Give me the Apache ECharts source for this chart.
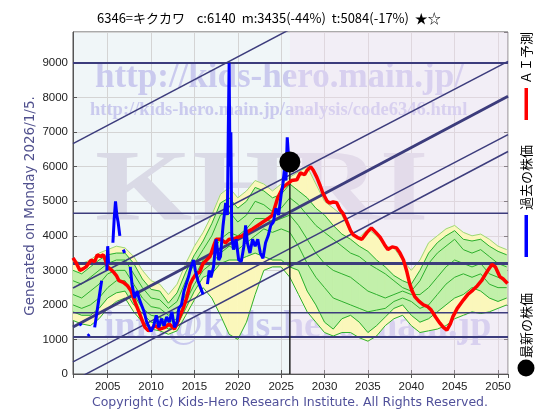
<!DOCTYPE html>
<html>
<head>
<meta charset="utf-8">
<script src="https://cdn.jsdelivr.net/npm/echarts@6/dist/echarts.min.js"></script>
<style>
  html, body { margin: 0; padding: 0; background: #fff; }
  #main { width: 560px; height: 420px; }
</style>
</head>
<body>
<div id="main"></div>
<script>
// 年ごとの帯（類似パターン）
var bandYears = [2001, 2002, 2003, 2004, 2005, 2006, 2007, 2008, 2009, 2010,
  2011, 2012, 2013, 2014, 2015, 2016, 2017, 2018, 2019, 2020,
  2021, 2022, 2023, 2024, 2025, 2026, 2027, 2028, 2029, 2030,
  2031, 2032, 2033, 2034, 2035, 2036, 2037, 2038, 2039, 2040,
  2041, 2042, 2043, 2044, 2045, 2046, 2047, 2048, 2049, 2050, 2051];
var yellowUpper = [3300, 3200, 3300, 3500, 3600, 3700, 3650, 3400, 3000, 2700,
  2600, 2300, 2600, 3200, 3700, 4100, 4600, 5200, 5400, 5100,
  5300, 5600, 5500, 5300, 5500, 5700, 5850, 6000, 5500, 5000,
  4800, 4600, 4100, 3950, 4200, 4000, 3700, 3650, 3300, 3000,
  3300, 3800, 4000, 4200, 4300, 4100, 4000, 4050, 3900, 3700, 3600];
var yellowLower = [1550, 1450, 1400, 1600, 1900, 2100, 2200, 1800, 1500, 1300,
  1250, 1150, 1250, 1700, 2150, 2500, 2200, 1700, 1150, 1000,
  1500, 2300, 3000, 3100, 3100, 2800, 2300, 1800, 1500, 1200,
  1100, 1200, 1200, 1050, 950, 1100, 1400, 1600, 1700, 1400,
  1200, 1250, 1300, 1400, 1600, 1700, 1800, 1750, 1800, 1900, 2000];
var greenUpper = [3000, 2900, 3100, 3300, 3450, 3500, 3500, 3200, 2750, 2450,
  2400, 2050, 2350, 2950, 3450, 3850, 4350, 4950, 5100, 4800,
  5000, 5400, 5300, 5100, 5200, 5500, 5300, 5100, 4800, 4600,
  4300, 4050, 3900, 3700, 3550, 3300, 3100, 2850, 2700, 2600,
  3000, 3500, 3800, 4000, 4150, 3900, 3850, 3900, 3700, 3550, 3450];
var greenLower = [1800, 1700, 1700, 1900, 2200, 2350, 2400, 2000, 1750, 1500,
  1450, 1300, 1400, 1900, 2400, 2800, 2900, 3200, 3300, 3300,
  3400, 3500, 3400, 3300, 3300, 3100, 3000, 2400, 2000, 1500,
  1300, 1600, 1700, 1500, 1200, 1400, 1650, 1900, 2000, 1700,
  1500, 1600, 1800, 2000, 2200, 2300, 2500, 2400, 2200, 2100, 2200];
var green1 = [2700, 2600, 2800, 3000, 3200, 3300, 3300, 2900, 2500, 2200,
  2150, 1900, 2100, 2700, 3200, 3600, 4000, 4600, 4700, 4400,
  4600, 5000, 4900, 4700, 4800, 5100, 4900, 4600, 4300, 4100,
  3900, 3700, 3500, 3400, 3200, 3050, 2900, 2700, 2500, 2400,
  2700, 3200, 3500, 3700, 3900, 3600, 3500, 3600, 3400, 3200, 3100];
var green2 = [2300, 2200, 2400, 2600, 2900, 3000, 3000, 2600, 2200, 1950,
  1900, 1700, 1800, 2300, 2800, 3300, 3500, 3900, 4100, 4000,
  4200, 4500, 4500, 4400, 4500, 4600, 4300, 3900, 3500, 3200,
  3000, 2900, 2800, 2600, 2400, 2300, 2200, 2300, 2400, 2300,
  2300, 2500, 2800, 3100, 3300, 3200, 3100, 3200, 2900, 2800, 2700];
var green3 = [2000, 1900, 2000, 2200, 2500, 2700, 2700, 2300, 1900, 1700,
  1650, 1500, 1600, 2100, 2600, 3000, 3200, 3500, 3700, 3600,
  3800, 4000, 4200, 4100, 4200, 4100, 3700, 3200, 2800, 2500,
  2200, 2100, 2000, 1900, 1800, 1850, 1900, 2100, 2200, 2100,
  1900, 2000, 2300, 2600, 2800, 2900, 2800, 2900, 2600, 2500, 2500];

// ＡＩ予測（赤）
var redYears = [2001.0, 2001.4, 2001.8, 2002.2, 2002.5, 2003.1, 2003.5, 2003.8, 2004.2, 2004.5,
  2004.8, 2005.0, 2005.6, 2006.0, 2006.3, 2006.8, 2007.3, 2007.7, 2008.2, 2008.6,
  2008.9, 2009.3, 2009.7, 2010.0, 2010.5, 2011.0, 2011.6, 2012.1, 2012.7, 2013.2,
  2013.7, 2014.1, 2014.5, 2014.8, 2015.2, 2015.6, 2016.0, 2016.4, 2016.8, 2017.2,
  2017.5, 2018.0, 2018.6, 2019.0, 2019.4, 2019.9, 2020.5, 2021.0, 2021.7, 2022.3,
  2022.9, 2023.5, 2024.0, 2024.6, 2025.2, 2025.6, 2026.2, 2026.8, 2027.2, 2027.7,
  2028.0, 2028.4, 2028.7, 2029.1, 2029.5, 2029.8, 2030.3, 2030.6, 2031.0, 2031.4,
  2031.8, 2032.1, 2032.5, 2033.0, 2033.3, 2033.8, 2034.3, 2034.9, 2035.4, 2035.9,
  2036.4, 2036.9, 2037.3, 2037.8, 2038.3, 2038.7, 2039.1, 2039.5, 2039.8, 2040.1,
  2040.4, 2040.9, 2041.4, 2041.9, 2042.3, 2042.8, 2043.3, 2043.7, 2044.1, 2044.5,
  2044.8, 2045.3, 2046.0, 2046.5, 2047.1, 2047.6, 2048.1, 2048.7, 2049.3, 2049.7,
  2050.2, 2050.6, 2051.1];
var redValues = [3360, 3200, 3000, 3050, 3100, 3300, 3250, 3450, 3400, 3450,
  3250, 3100, 2970, 2850, 2700, 2650, 2550, 2400, 2050, 1800,
  1600, 1350, 1250, 1300, 1400, 1300, 1350, 1450, 1300, 1600,
  1900, 2200, 2600, 2750, 2900, 2950, 3200, 3300, 3400, 3700,
  3900, 3900, 3800, 3900, 3900, 3950, 4000, 4100, 4200, 4300,
  4400, 4500, 4600, 5100, 5400, 5480, 5600, 5620, 5820, 5770,
  5900, 6000, 5900, 5700, 5450, 5240, 5000, 4950, 4980, 4960,
  4750, 4660, 4450, 4150, 4030, 3950, 3900, 4100, 4230, 4100,
  3960, 3750, 3600, 3680, 3650, 3500, 3300, 2950, 2630, 2400,
  2240, 2100, 2000, 1950, 1850, 1650, 1470, 1350, 1270, 1450,
  1660, 1900, 2140, 2300, 2430, 2550, 2700, 2950, 3170, 3100,
  2820, 2750, 2620];

// 過去の株価（青）null は欠損
var blueYears = [2001.8, 2001.95, 2002.3, 2002.7, 2002.9, 2003.2, 2003.5, 2003.7, 2004.0, 2004.3,
  2004.6, 2004.9, 2005.0, 2005.1, 2005.35, 2005.6, 2005.75, 2005.9, 2006.05, 2006.2,
  2006.4, 2006.6, 2006.8, 2006.95, 2007.3, 2007.6, 2007.8, 2008.1, 2008.4, 2008.6,
  2008.9, 2009.2, 2009.5, 2009.8, 2010.0, 2010.3, 2010.6, 2010.9, 2011.2, 2011.5,
  2011.8, 2012.1, 2012.4, 2012.7, 2013.0, 2013.2, 2013.5, 2013.8, 2014.0, 2014.3,
  2014.6, 2014.9, 2015.1, 2015.4, 2015.7, 2016.0, 2016.25, 2016.5, 2016.7, 2016.9,
  2017.2, 2017.5, 2017.8, 2018.0, 2018.3, 2018.6, 2018.8, 2018.9, 2019.0, 2019.1,
  2019.2, 2019.3, 2019.5, 2019.8, 2020.1, 2020.4, 2020.7, 2020.9, 2021.1, 2021.4,
  2021.7, 2022.0, 2022.3, 2022.6, 2022.9, 2023.2, 2023.5, 2023.8, 2024.1, 2024.4,
  2024.7, 2025.0, 2025.2, 2025.4, 2025.55, 2025.7, 2025.85, 2026.0];
var blueValues = [1460, 1400, null, 1100, 1150, null, 1350, 1400, 2200, 2700,
  null, 3000, 3700, 3200, null, 3800, 4500, 5000, 4600, 4400,
  4000, null, 3600, 3500, null, 3100, 2600, 2200, 2400, 2200,
  2000, 1800, 1500, 1350, 1230, 1400, 1700, 1350, 1600, 1400,
  1650, 1500, 1800, 1350, 1500, 1900, 2000, 2400, 2350, 2800,
  3100, 3300, 3000, 2700, 2500, 2300, null, 2600, 3000, 2800,
  3100, 3900, 3300, 3400, 4300, 4950, 4600, 7000, 9000, 6000,
  7000, 4000, 3600, 3900, 3300, 3260, 3700, 4300, 3800, 3500,
  3900, 3700, 3900, 3500, 3350, 3800, 4000, 4300, 4400, 4800,
  4600, 5200, 5500, 6000, 5600, 6850, 6300, 6140];

// 最新の株価
var latestYear = 2026.0;
var latestPrice = 6140;

// 水平線・トレンドライン
var hLevels = [9000, 4650, 3200, 1770, 1070];
var hWidths = [2, 1.5, 3, 1.5, 2];
var trendStart = [6670, 2490, 1360, 350, -200];
var trendEnd = [13300, 9050, 8040, 6930, 6440];
var trendWidths = [1.5, 1.5, 3, 1.5, 1.5];

var xMin = 2001, xMax = 2051.15;

function pairs(xs, ys) {
  var out = [];
  for (var i = 0; i < xs.length; i++) {
    out.push([xs[i], ys[i] == null ? '-' : ys[i]]);
  }
  return out;
}

// 帯を年ごとの四角形で塗る
function bandSeries(lo, hi, color) {
  var data = [];
  for (var i = 0; i < bandYears.length - 1; i++) {
    data.push([bandYears[i], lo[i], hi[i], bandYears[i + 1], lo[i + 1], hi[i + 1]]);
  }
  return {
    type: 'custom', silent: true, zlevel: 1, z: 2, data: data,
    encode: { x: [0, 3], y: [1, 2, 4, 5] },
    renderItem: function (params, api) {
      var pts = [
        api.coord([api.value(0), api.value(1)]),
        api.coord([api.value(3), api.value(4)]),
        api.coord([api.value(3), api.value(5)]),
        api.coord([api.value(0), api.value(2)])
      ];
      return { type: 'polygon', shape: { points: pts }, style: { fill: color, stroke: color, lineWidth: 0.8 } };
    }
  };
}

var myChart = echarts.init(document.getElementById('main'));

var series = [];
// 背景（右側ピンク）
series.push({
  type: 'line', data: [], z: 0, silent: true,
  markArea: {
    silent: true,
    itemStyle: { color: 'rgba(246,222,242,0.32)' },
    data: [[{ xAxis: latestYear }, { xAxis: xMax }]]
  }
});
series.push(bandSeries(yellowLower, yellowUpper, '#fbf7bb'));
series.push(bandSeries(greenLower, greenUpper, '#c2f0aa'));
// 緑の細線
[yellowUpper, greenUpper, green1, green2, green3, greenLower, yellowLower].forEach(function (arr, i) {
  series.push({
    type: 'line', data: pairs(bandYears, arr), symbol: 'none', silent: true, zlevel: 1, z: 3,
    lineStyle: { color: i === 0 ? '#9ad67a' : '#2db02d', width: 1 }
  });
});
// 水平線
hLevels.forEach(function (lv, i) {
  series.push({
    type: 'line', data: [[xMin, lv], [xMax, lv]], symbol: 'none', silent: true, zlevel: 1, z: 4,
    lineStyle: { color: '#3c3c7c', width: hWidths[i] }
  });
});
// トレンドライン
trendStart.forEach(function (s, i) {
  series.push({
    type: 'line', data: [[xMin, s], [xMax, trendEnd[i]]], symbol: 'none', silent: true, zlevel: 1, z: 4, clip: true,
    lineStyle: { color: '#3c3c7c', width: trendWidths[i] }
  });
});
// 現在の縦線
series.push({
  type: 'line', data: [[latestYear, 0], [latestYear, latestPrice]], symbol: 'none', silent: true, zlevel: 1, z: 5,
  lineStyle: { color: '#222', width: 1.5 }
});
// ＡＩ予測
series.push({
  name: 'ＡＩ予測', type: 'line', data: pairs(redYears, redValues), symbol: 'none', zlevel: 1, z: 6,
  lineStyle: { color: '#ff0000', width: 3.5 }
});
// 過去の株価
series.push({
  name: '過去の株価', type: 'line', data: pairs(blueYears, blueValues), symbol: 'none', zlevel: 1, z: 7,
  connectNulls: false,
  lineStyle: { color: '#0000ff', width: 3 }
});
// 最新の株価
series.push({
  name: '最新の株価', type: 'scatter', data: [[latestYear, latestPrice]], symbolSize: 21, zlevel: 1, z: 8,
  itemStyle: { color: '#000', opacity: 1 }
});

var axisLabelStyle = { color: '#222', fontSize: 11.5, fontFamily: 'Liberation Sans' };
var wmFill = '#cacaee';
myChart.setOption({
  animation: false,
  grid: {
    left: 73, right: 52, top: 32, bottom: 46,
    show: true, borderColor: '#555', borderWidth: 1,
    backgroundColor: '#f0f6f8'
  },
  xAxis: [{
    type: 'value', min: xMin, max: xMax, splitNumber: 10,
    axisLine: { show: true, lineStyle: { color: '#555' } },
    axisTick: { show: true, inside: true, length: 4, lineStyle: { color: '#555' } },
    axisLabel: Object.assign({
      showMinLabel: false, showMaxLabel: false, margin: 7,
      formatter: function (v) { return String(v); }
    }, axisLabelStyle),
    splitLine: { show: true, lineStyle: { color: '#d4d4d4', width: 1 } }
  }, {
    type: 'value', position: 'top', min: xMin, max: xMax, splitNumber: 10,
    axisLine: { show: false },
    axisTick: { show: true, inside: true, length: 4, lineStyle: { color: '#555' } },
    axisLabel: { show: false }, splitLine: { show: false }
  }],
  yAxis: [{
    type: 'value', min: 0, max: 9900, interval: 1000,
    axisLine: { show: true, lineStyle: { color: '#555' } },
    axisTick: { show: true, inside: true, length: 4, lineStyle: { color: '#555' } },
    axisLabel: Object.assign({
      showMaxLabel: false, margin: 5,
      formatter: function (v) { return String(v); }
    }, axisLabelStyle),
    splitLine: { show: true, lineStyle: { color: '#d4d4d4', width: 1 } }
  }, {
    type: 'value', position: 'right', min: 0, max: 9900, interval: 1000,
    axisLine: { show: false },
    axisTick: { show: true, inside: true, length: 4, lineStyle: { color: '#555' } },
    axisLabel: { show: false }, splitLine: { show: false }
  }],
  graphic: { elements: [
    // 透かし
    { type: 'text', x: 95, y: 245, z: 1, silent: true, scaleY: 0.82,
      style: { text: 'KHRI', font: 'bold 125px "Liberation Serif"', fill: '#dadae6', textVerticalAlign: 'bottom' } },
    { type: 'text', x: 95, y: 78, z: 1, silent: true,
      style: { text: 'http://kids-hero.main.jp/', font: 'bold 35px "Liberation Serif"', fill: wmFill, textVerticalAlign: 'middle' } },
    { type: 'text', x: 90, y: 110, z: 1, silent: true,
      style: { text: 'http://kids-hero.main.jp/analysis/code6346.html', font: 'bold 18.5px "Liberation Serif"', fill: wmFill, textVerticalAlign: 'middle' } },
    { type: 'text', x: 104, y: 327, z: 1, silent: true,
      style: { text: 'info@kids-hero.main.jp', font: 'bold 38px "Liberation Serif"', fill: wmFill, textVerticalAlign: 'middle' } },
    // タイトル
    { type: 'text', x: 97, y: 18,
      style: { text: '6346=キクカワ    c:6140  m:3435(-44%)  t:5084(-17%)  ★☆', font: '13px "Noto Sans CJK JP"', fill: '#000', textVerticalAlign: 'middle' } },
    // 縦のラベル
    { type: 'text', x: 30, y: 206, rotation: Math.PI / 2,
      style: { text: 'Generated on Monday 2026/1/5.', font: '13.5px "DejaVu Sans"', fill: '#50508e', textAlign: 'center', textVerticalAlign: 'middle' } },
    // コピーライト
    { type: 'text', x: 290, y: 403,
      style: { text: 'Copyright (c) Kids-Hero Research Institute. All Rights Reserved.', font: '12.5px "DejaVu Sans"', fill: '#50509a', textAlign: 'center', textVerticalAlign: 'middle' } },
    // 凡例
    { type: 'text', x: 526, y: 84, rotation: Math.PI / 2,
      style: { text: 'ＡＩ予測', font: '13px "Noto Sans CJK JP"', fill: '#000', textAlign: 'left', textVerticalAlign: 'middle' } },
    { type: 'rect', shape: { x: 524.5, y: 88, width: 3.5, height: 32 }, style: { fill: '#ff0000' } },
    { type: 'text', x: 526, y: 210, rotation: Math.PI / 2,
      style: { text: '過去の株価', font: '13px "Noto Sans CJK JP"', fill: '#000', textAlign: 'left', textVerticalAlign: 'middle' } },
    { type: 'rect', shape: { x: 524.5, y: 215, width: 3.5, height: 42 }, style: { fill: '#0000ff' } },
    { type: 'text', x: 526, y: 358, rotation: Math.PI / 2,
      style: { text: '最新の株価', font: '13px "Noto Sans CJK JP"', fill: '#000', textAlign: 'left', textVerticalAlign: 'middle' } },
    { type: 'circle', shape: { cx: 526, cy: 368, r: 8.5 }, style: { fill: '#000' } }
  ] },
  series: series
});
</script>
</body>
</html>
